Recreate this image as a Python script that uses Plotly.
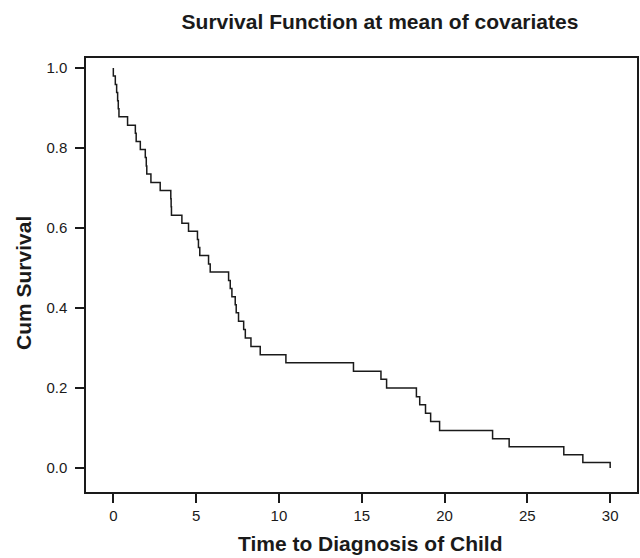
import plotly.graph_objects as go

# Event times (time to diagnosis) and survival after each event
event_times = [0.00, 0.12, 0.20, 0.26, 0.30, 0.34, 0.86, 1.33, 1.38, 1.63, 1.93, 1.99, 2.02,
               2.27, 2.83, 3.47, 3.49, 3.51, 4.14, 4.54, 5.08, 5.14, 5.22, 5.75, 5.85,
               6.96, 7.06, 7.16, 7.36, 7.42, 7.56, 7.87, 7.97, 8.31, 8.87, 10.42, 14.50,
               16.16, 16.50, 18.30, 18.50, 18.85, 19.16, 19.70, 22.90, 23.90, 27.20, 28.35, 30.00]
survival = [0.980, 0.959, 0.939, 0.918, 0.898, 0.878, 0.857, 0.837, 0.816, 0.796, 0.776, 0.755, 0.735,
            0.714, 0.694, 0.673, 0.653, 0.632, 0.612, 0.592, 0.571, 0.551, 0.531, 0.510, 0.490,
            0.469, 0.449, 0.428, 0.408, 0.388, 0.367, 0.346, 0.325, 0.304, 0.283, 0.263, 0.242,
            0.222, 0.200, 0.178, 0.158, 0.137, 0.116, 0.094, 0.073, 0.053, 0.033, 0.014, 0.000]
start_time = 0.0
start_survival = 1.0

x_ticks = [0, 5, 10, 15, 20, 25, 30]
y_ticks = [0.0, 0.2, 0.4, 0.6, 0.8, 1.0]
y_tick_labels = ["0.0", "0.2", "0.4", "0.6", "0.8", "1.0"]

FONT = "Liberation Sans, Arial, Helvetica, sans-serif"
INK = "#1a1a1a"

W, H = 640, 558
L, R, T, B = 86, 3, 58, 66
pw, ph = W - L - R, H - T - B

fig = go.Figure()
fig.add_trace(go.Scatter(
    x=[start_time] + event_times,
    y=[start_survival] + survival,
    mode="lines",
    line=dict(shape="hv", color=INK, width=1.5),
    showlegend=False,
    hoverinfo="skip",
))

fig.update_layout(
    width=W, height=H,
    margin=dict(l=L, r=R, t=T, b=B),
    paper_bgcolor="white", plot_bgcolor="white",
    font=dict(family=FONT, color=INK, size=15),
    title=dict(text="<b>Survival Function at mean of covariates</b>",
               x=380/W, xanchor="center", xref="container",
               y=1-22/H, yanchor="middle", yref="container",
               font=dict(family=FONT, size=21, color=INK)),
    annotations=[
        dict(text="<b>Time to Diagnosis of Child</b>", xref="paper", yref="paper",
             x=(370-L)/pw, y=(H-B-543)/ph, xanchor="center", yanchor="middle",
             showarrow=False, font=dict(family=FONT, size=21, color=INK)),
        dict(text="<b>Cum Survival</b>", xref="paper", yref="paper",
             x=(23-L)/pw, y=(H-B-283)/ph, xanchor="center", yanchor="middle",
             textangle=-90, showarrow=False, font=dict(family=FONT, size=21, color=INK)),
    ],
)
fig.update_xaxes(
    range=[-1.65, 31.62], tickvals=x_ticks, ticktext=[str(v) for v in x_ticks],
    showline=True, linecolor=INK, linewidth=1.5, mirror=True,
    ticks="outside", ticklen=9, tickwidth=1.5, tickcolor=INK,
    showgrid=False, zeroline=False, automargin=False,
    tickfont=dict(size=15),
)
fig.update_yaxes(
    range=[-0.06, 1.025], tickvals=y_ticks, ticktext=y_tick_labels,
    showline=True, linecolor=INK, linewidth=1.5, mirror=True,
    ticks="outside", ticklen=9, tickwidth=1.5, tickcolor=INK,
    showgrid=False, zeroline=False, automargin=False,
    tickfont=dict(size=15), ticklabelstandoff=5,
)

fig.write_html("out.html", config={"displayModeBar": False},
               post_script="document.body.style.margin='0';document.body.style.overflow='hidden';")
